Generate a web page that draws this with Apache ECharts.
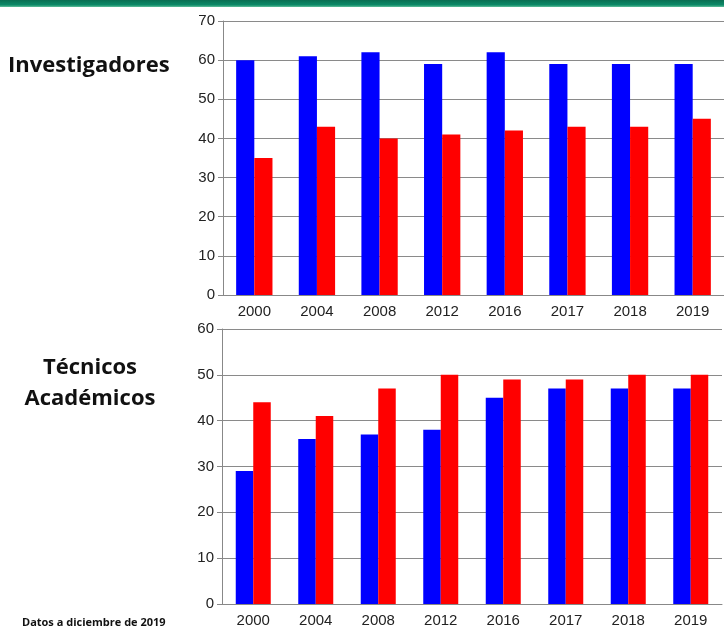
<!DOCTYPE html>
<html>
<head>
<meta charset="utf-8">
<script src="https://cdn.jsdelivr.net/npm/echarts@6/dist/echarts.min.js"></script>
<style>
  html, body { margin: 0; padding: 0; background: #fff; }
  #chart { width: 724px; height: 631px; }
</style>
</head>
<body>
<div id="chart"></div>
<script>
var years = ['2000', '2004', '2008', '2012', '2016', '2017', '2018', '2019'];

// Investigadores
var invBlue = [60, 61, 62, 59, 62, 59, 59, 59];
var invRed  = [35, 43, 40, 41, 42, 43, 43, 45];

// Técnicos Académicos
var tecBlue = [29, 36, 37, 38, 45, 47, 47, 47];
var tecRed  = [44, 41, 47, 50, 49, 49, 50, 50];

var axisFont = 'Liberation Sans';

function xAx(idx) {
    return {
        type: 'category',
        gridIndex: idx,
        data: years,
        axisLine: { lineStyle: { color: '#888', width: 1 } },
        axisTick: { length: 5, lineStyle: { color: '#888' } },
        axisLabel: { color: '#222', fontSize: 15, fontFamily: axisFont, margin: 9 }
    };
}

function yAx(idx, max) {
    return {
        type: 'value',
        gridIndex: idx,
        min: 0,
        max: max,
        interval: 10,
        axisLine: { show: true, lineStyle: { color: '#888', width: 1 } },
        axisTick: { show: true, length: 5, lineStyle: { color: '#888' } },
        axisLabel: { color: '#222', fontSize: 15, fontFamily: axisFont, margin: 8 },
        splitLine: { show: true, lineStyle: { color: '#8a8a8a', width: 1 } }
    };
}

var myChart = echarts.init(document.getElementById('chart'));
var option = {
    backgroundColor: '#fff',
    animation: false,
    grid: [
        { left: 223, top: 21, width: 512, height: 274 },
        { left: 222, top: 329, width: 500, height: 275 }
    ],
    xAxis: [xAx(0), xAx(1)],
    yAxis: [yAx(0, 70), yAx(1, 60)],
    graphic: [
        {
            type: 'rect',
            shape: { x: 0, y: 0, width: 724, height: 7 },
            style: {
                fill: new echarts.graphic.LinearGradient(0, 0, 0, 1, [
                    { offset: 0, color: '#0a6e52' },
                    { offset: 0.7, color: '#0c8a68' },
                    { offset: 1, color: '#5fbf9a' }
                ])
            }
        },
        {
            type: 'text', x: 8, y: 55,
            style: { text: 'Investigadores', font: 'bold 22px "Open Sans"', fill: '#111' }
        },
        {
            type: 'text', x: 90, y: 352,
            style: { text: 'Técnicos\nAcadémicos', font: 'bold 22px "Open Sans"', fill: '#111', align: 'center', lineHeight: 31 }
        },
        {
            type: 'text', x: 22, y: 617,
            style: { text: 'Datos a diciembre de 2019', font: 'bold 11px "Open Sans"', fill: '#111' }
        }
    ],
    series: [
        { type: 'bar', xAxisIndex: 0, yAxisIndex: 0, data: invBlue, itemStyle: { color: '#0000ff' }, barGap: '0%', barCategoryGap: '42%' },
        { type: 'bar', xAxisIndex: 0, yAxisIndex: 0, data: invRed, itemStyle: { color: '#ff0000' }, barGap: '0%', barCategoryGap: '42%' },
        { type: 'bar', xAxisIndex: 1, yAxisIndex: 1, data: tecBlue, itemStyle: { color: '#0000ff' }, barGap: '0%', barCategoryGap: '44%' },
        { type: 'bar', xAxisIndex: 1, yAxisIndex: 1, data: tecRed, itemStyle: { color: '#ff0000' }, barGap: '0%', barCategoryGap: '44%' }
    ]
};
myChart.setOption(option);
</script>
</body>
</html>
